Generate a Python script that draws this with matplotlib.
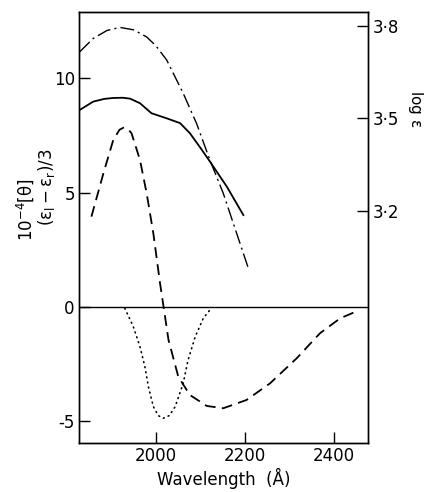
import numpy as np
import matplotlib
matplotlib.use("Agg")
import matplotlib.pyplot as plt

# solid curve  (left axis)
wl_solid = [1829, 1859, 1884, 1904, 1925, 1942, 1964, 1990, 2024, 2054, 2076, 2100, 2121, 2159, 2196]
solid = [8.62, 8.98, 9.10, 9.14, 9.15, 9.11, 8.91, 8.47, 8.25, 8.04, 7.60, 6.95, 6.36, 5.26, 4.02]

# dashed curve (left axis)
wl_dash = [1855, 1882, 1904, 1918, 1927, 1937, 1945, 1964, 1979, 1994, 2009, 2017, 2028, 2050,
           2076, 2114, 2151, 2203, 2256, 2316, 2368, 2413, 2443]
dash = [3.95, 5.85, 7.30, 7.75, 7.84, 7.78, 7.60, 6.43, 4.97, 3.22, 1.04, 0.0, -1.44, -3.05,
        -3.85, -4.33, -4.43, -4.07, -3.34, -2.24, -1.15, -0.50, -0.25]

# dotted curve (left axis)
wl_dot = [1930, 1949, 1964, 1975, 1983, 1994, 2005, 2016, 2030, 2043, 2061, 2072, 2088, 2106, 2121]
dot = [-0.06, -0.86, -1.74, -2.61, -3.49, -4.36, -4.75, -4.87, -4.75, -4.36, -3.34, -2.32, -1.30, -0.50, -0.13]

# dash-dot curve: log epsilon (right axis)
wl_loge = [1829, 1859, 1890, 1919, 1950, 1979, 2000, 2024, 2061, 2091, 2121, 2151, 2181, 2209]
loge = [3.716, 3.759, 3.785, 3.795, 3.787, 3.764, 3.735, 3.689, 3.581, 3.483, 3.364, 3.256, 3.126, 3.005]

plt.rcParams['font.family'] = 'DejaVu Sans'
plt.rcParams['font.size'] = 12

fig = plt.figure(figsize=(4.29, 4.92), dpi=100)
ax = fig.add_axes([0.184, 0.0996, 0.674, 0.876])
ax2 = ax.twinx()

lw = 1.3
ax.plot(wl_solid, solid, color='black', lw=lw)
ax.plot(wl_dash, dash, color='black', lw=lw, dashes=(6, 3.5))
ax.plot(wl_dot, dot, color='black', lw=1.2, linestyle=(0, (0.5, 2.6)), dash_capstyle='round')
ax2.plot(wl_loge, loge, color='black', lw=1.0, dashes=(10, 3, 1.5, 3))

ax.axhline(0, color='black', lw=1.0)

ax.set_xlim(1827, 2476)
ax.set_ylim(-5.95, 12.9)
ax2.set_ylim(2.445, 3.845)

ax.set_xticks([2000, 2200, 2400])
ax.set_yticks([-5, 0, 5, 10])
ax.set_yticklabels(['-5', '0', '5', '10'])
ax2.set_yticks([3.2, 3.5, 3.8])
ax2.set_yticklabels(['3·2', '3·5', '3·8'])

ax.tick_params(direction='in', length=8, width=1, pad=3, top=False)
ax2.tick_params(direction='in', length=8, width=1, pad=3)
for a in (ax, ax2):
    for s in a.spines.values():
        s.set_linewidth(1.0)

ax.set_xlabel('Wavelength  (Å)', labelpad=2)
fig.text(0.058, 0.573, r'$\mathregular{10^{-4}[\theta]}$', rotation=90, ha='center', va='center', fontsize=12)
fig.text(0.108, 0.62, r'$\mathregular{(\epsilon_l - \epsilon_r)/3}$', rotation=90, ha='center', va='center', fontsize=12)
fig.text(0.968, 0.78, r'log $\mathregular{\epsilon}$', rotation=270, ha='center', va='center', fontsize=11)

fig.savefig('out.png', dpi=100)
